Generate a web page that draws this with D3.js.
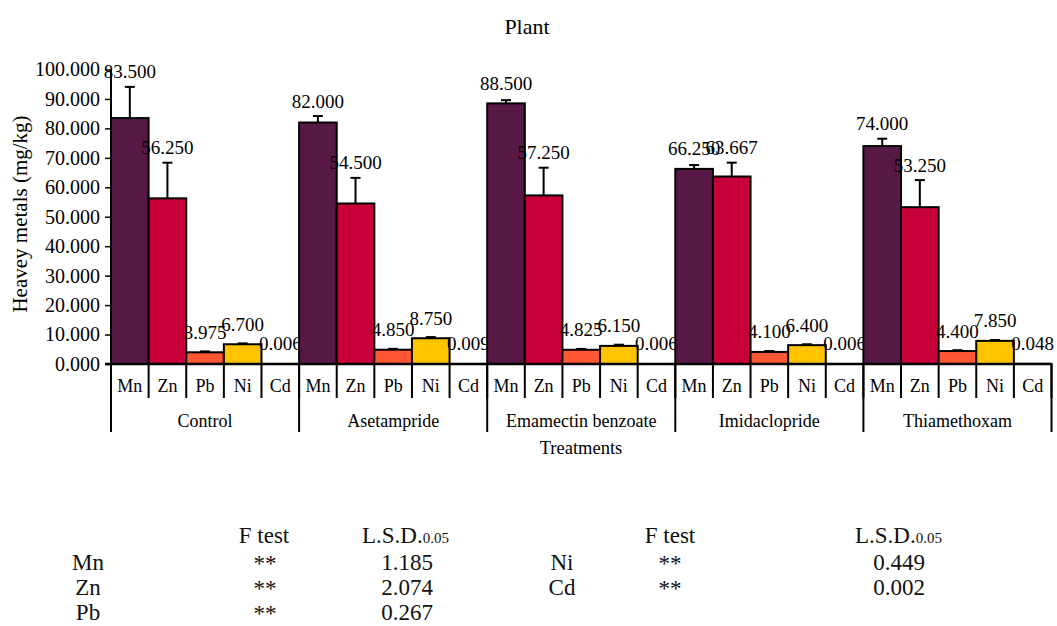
<!DOCTYPE html>
<html>
<head>
<meta charset="utf-8">
<script src="https://cdn.jsdelivr.net/npm/d3@7"></script>
<style>
  body { margin: 0; background: #fff; }
  svg, svg text { font-family: "Liberation Serif", "Times New Roman", serif !important; }
</style>
</head>
<body>
<svg id="chart" width="1057" height="626"></svg>
<script>
// treatments and metals
const treatments = ["Control", "Asetampride", "Emamectin benzoate", "Imidaclopride", "Thiamethoxam"];
const metals = ["Mn", "Zn", "Pb", "Ni", "Cd"];

// mean values per treatment (Mn, Zn, Pb, Ni, Cd)
const mnValues = [83.5, 82.0, 88.5, 66.25, 74.0];
const znValues = [56.25, 54.5, 57.25, 63.667, 53.25];
const pbValues = [3.975, 4.85, 4.825, 4.1, 4.4];
const niValues = [6.7, 8.75, 6.15, 6.4, 7.85];
const cdValues = [0.006, 0.009, 0.006, 0.006, 0.048];

// error bar (plus) sizes
const mnErr = [10.6, 2.2, 1.1, 1.3, 2.5];
const znErr = [12.1, 8.7, 9.4, 4.7, 9.2];
const pbErr = [0.3, 0.3, 0.3, 0.3, 0.3];
const niErr = [0.3, 0.4, 0.4, 0.3, 0.3];
const cdErr = [0, 0, 0, 0, 0];

const yTicks = [0, 10, 20, 30, 40, 50, 60, 70, 80, 90, 100];

// statistics table
const statLeftMetals = ["Mn", "Zn", "Pb"];
const statLeftF = ["**", "**", "**"];
const statLeftLsd = ["1.185", "2.074", "0.267"];
const statRightMetals = ["Ni", "Cd"];
const statRightF = ["**", "**"];
const statRightLsd = ["0.449", "0.002"];

const colors = d3.scaleOrdinal()
  .domain(metals)
  .range(["#581845", "#C70039", "#FF5733", "#FFC300", "#FFFFFF"]);

const valueTable = [mnValues, znValues, pbValues, niValues, cdValues];
const errTable = [mnErr, znErr, pbErr, niErr, cdErr];

const rows = [];
treatments.forEach((t, i) => {
  metals.forEach((m, j) => {
    rows.push({ treatment: t, metal: m, value: valueTable[j][i], err: errTable[j][i] });
  });
});

const svg = d3.select("#chart");
const plotLeft = 111, plotRight = 1051.5, plotTop = 69.5, base = 364;
const rowH = 34;

const x0 = d3.scaleBand().domain(treatments).range([plotLeft, plotRight]).padding(0);
const x1 = d3.scaleBand().domain(metals).range([0, x0.bandwidth()]).padding(0);
const y = d3.scaleLinear().domain([0, 100]).range([base, plotTop]);
const fmt = d3.format(".3f");

// title
svg.append("text")
  .attr("x", 527).attr("y", 34)
  .attr("text-anchor", "middle")
  .style("font-size", "22px")
  .text("Plant");

// y axis
const yAxis = svg.append("g")
  .attr("transform", "translate(" + plotLeft + ",0)")
  .call(d3.axisLeft(y).tickValues(yTicks).tickFormat(fmt).tickSize(6).tickPadding(5));
yAxis.select(".domain").attr("stroke", "#000").attr("stroke-width", 2)
  .attr("d", "M0," + plotTop + "V" + (base + 2 * rowH));
yAxis.selectAll(".tick line").attr("stroke", "#000").attr("stroke-width", 1.5);
yAxis.selectAll(".tick text").style("font-size", "20px").attr("fill", "#000");

svg.append("text")
  .attr("transform", "translate(27," + 214 + ") rotate(-90)")
  .attr("text-anchor", "middle")
  .style("font-size", "21px")
  .text("Heavey metals (mg/kg)");

// bars
const groups = svg.selectAll("g.grp")
  .data(treatments)
  .enter().append("g")
  .attr("class", "grp")
  .attr("transform", d => "translate(" + x0(d) + ",0)");

groups.selectAll("rect")
  .data(t => rows.filter(r => r.treatment === t))
  .enter().append("rect")
  .attr("x", d => x1(d.metal))
  .attr("y", d => y(d.value))
  .attr("width", x1.bandwidth())
  .attr("height", d => base - y(d.value))
  .attr("fill", d => colors(d.metal))
  .attr("stroke", "#000")
  .attr("stroke-width", 2);

// error bars
const eb = groups.selectAll("g.err")
  .data(t => rows.filter(r => r.treatment === t && r.err > 0))
  .enter().append("g").attr("class", "err");
eb.append("line")
  .attr("x1", d => x1(d.metal) + x1.bandwidth() / 2)
  .attr("x2", d => x1(d.metal) + x1.bandwidth() / 2)
  .attr("y1", d => y(d.value))
  .attr("y2", d => y(d.value + d.err))
  .attr("stroke", "#000").attr("stroke-width", 2);
eb.append("line")
  .attr("x1", d => x1(d.metal) + x1.bandwidth() / 2 - 5)
  .attr("x2", d => x1(d.metal) + x1.bandwidth() / 2 + 5)
  .attr("y1", d => y(d.value + d.err))
  .attr("y2", d => y(d.value + d.err))
  .attr("stroke", "#000").attr("stroke-width", 2);

// value labels
groups.selectAll("text.val")
  .data(t => rows.filter(r => r.treatment === t))
  .enter().append("text")
  .attr("class", "val")
  .attr("x", d => x1(d.metal) + x1.bandwidth() / 2)
  .attr("y", d => Math.min(y(d.value) - 20, y(d.value + d.err) - 15) + 6.5)
  .attr("text-anchor", "middle")
  .style("font-size", "19px")
  .text(d => fmt(d.value));

// x axis baseline
svg.append("line")
  .attr("x1", plotLeft - 6).attr("x2", plotRight)
  .attr("y1", base).attr("y2", base)
  .attr("stroke", "#000").attr("stroke-width", 2.5);

// sub-category separators and labels
const subs = svg.append("g");
rows.forEach(r => {
  const sx = x0(r.treatment) + x1(r.metal);
  subs.append("line")
    .attr("x1", sx + x1.bandwidth()).attr("x2", sx + x1.bandwidth())
    .attr("y1", base).attr("y2", base + rowH)
    .attr("stroke", "#000").attr("stroke-width", 2);
  subs.append("text")
    .attr("x", sx + x1.bandwidth() / 2)
    .attr("y", base + 28)
    .attr("text-anchor", "middle")
    .style("font-size", "18px")
    .text(r.metal);
});

// group separators and labels
treatments.forEach(t => {
  subs.append("line")
    .attr("x1", x0(t) + x0.bandwidth()).attr("x2", x0(t) + x0.bandwidth())
    .attr("y1", base).attr("y2", base + 2 * rowH)
    .attr("stroke", "#000").attr("stroke-width", 2);
  subs.append("text")
    .attr("x", x0(t) + x0.bandwidth() / 2)
    .attr("y", base + rowH + 29)
    .attr("text-anchor", "middle")
    .style("font-size", "18px")
    .text(t);
});

svg.append("text")
  .attr("x", 581).attr("y", 454)
  .attr("text-anchor", "middle")
  .style("font-size", "18.5px")
  .text("Treatments");

// statistics table
const tbl = svg.append("g").style("font-size", "23px").attr("fill", "#111");
function header(fx, lx) {
  tbl.append("text").attr("x", fx).attr("y", 543).attr("text-anchor", "middle").text("F test");
  const l = tbl.append("text").attr("x", lx).attr("y", 543).attr("text-anchor", "start");
  l.append("tspan").text("L.S.D.");
  l.append("tspan").style("font-size", "15px").text("0.05");
}
header(264, 362);
header(670, 855);

function statRows(names, fs, lsds, nx, fx, lx) {
  names.forEach((n, i) => {
    const ry = 570 + i * 25;
    tbl.append("text").attr("x", nx).attr("y", ry).attr("text-anchor", "middle").text(n);
    tbl.append("text").attr("x", fx).attr("y", ry + 1).attr("text-anchor", "middle").text(fs[i]);
    tbl.append("text").attr("x", lx).attr("y", ry).attr("text-anchor", "middle").text(lsds[i]);
  });
}
statRows(statLeftMetals, statLeftF, statLeftLsd, 88, 265, 407);
statRows(statRightMetals, statRightF, statRightLsd, 562, 670, 899);
</script>
</body>
</html>
